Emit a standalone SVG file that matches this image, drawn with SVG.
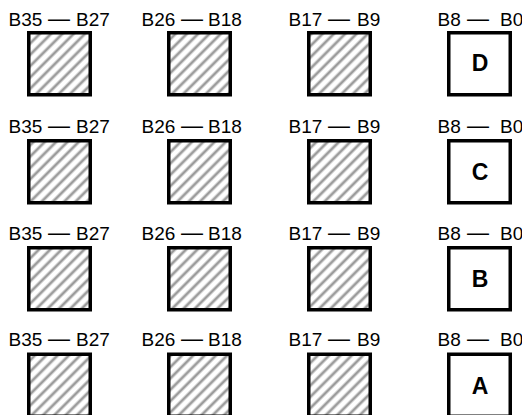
<svg xmlns="http://www.w3.org/2000/svg" width="522" height="415" viewBox="0 0 522 415">
<defs>
<pattern id="hatch" width="8" height="8" patternUnits="userSpaceOnUse" patternTransform="rotate(-45)">
<rect width="8" height="8" fill="#ffffff"/>
<line x1="0" y1="4" x2="8" y2="4" stroke="#9c9c9c" stroke-width="2.8"/>
</pattern>
</defs>
<style>
.lbl{font-family:"Liberation Sans",Arial,Helvetica,sans-serif;font-size:19px;fill:#000}
.dash{font-size:22px}
.box{stroke:#000;stroke-width:3.5}
.h{fill:url(#hatch)}
.p{fill:#fff}
.big{font-family:"Liberation Sans",Arial,Helvetica,sans-serif;font-size:23px;font-weight:bold;fill:#000;text-anchor:middle}
</style>
<rect width="522" height="415" fill="#fff"/>
<g id="row-D">
<g id="D-b35"><text class="lbl" y="26"><tspan x="8.5">B35</tspan><tspan class="dash" x="48">—</tspan><tspan x="76">B27</tspan></text><rect class="box h" x="28.75" y="32.75" width="61.5" height="62"/></g>
<g id="D-b26"><text class="lbl" y="26"><tspan x="141.5">B26</tspan><tspan class="dash" x="181">—</tspan><tspan x="208">B18</tspan></text><rect class="box h" x="168.75" y="32.75" width="61.5" height="62"/></g>
<g id="D-b17"><text class="lbl" y="26"><tspan x="288.5">B17</tspan><tspan class="dash" x="328">—</tspan><tspan x="357">B9</tspan></text><rect class="box h" x="308.75" y="32.75" width="61.5" height="62"/></g>
<g id="D-b8"><text class="lbl" y="26"><tspan x="437.5">B8</tspan><tspan class="dash" x="467">—</tspan><tspan x="500">B0</tspan></text><rect class="box p" x="448.75" y="32.75" width="61.5" height="62"/><text class="big" x="480" y="71">D</text></g>
</g>
<g id="row-C">
<g id="C-b35"><text class="lbl" y="133"><tspan x="8.5">B35</tspan><tspan class="dash" x="48">—</tspan><tspan x="76">B27</tspan></text><rect class="box h" x="28.75" y="140.75" width="61.5" height="62"/></g>
<g id="C-b26"><text class="lbl" y="133"><tspan x="141.5">B26</tspan><tspan class="dash" x="181">—</tspan><tspan x="208">B18</tspan></text><rect class="box h" x="168.75" y="140.75" width="61.5" height="62"/></g>
<g id="C-b17"><text class="lbl" y="133"><tspan x="288.5">B17</tspan><tspan class="dash" x="328">—</tspan><tspan x="357">B9</tspan></text><rect class="box h" x="308.75" y="140.75" width="61.5" height="62"/></g>
<g id="C-b8"><text class="lbl" y="133"><tspan x="437.5">B8</tspan><tspan class="dash" x="467">—</tspan><tspan x="500">B0</tspan></text><rect class="box p" x="448.75" y="140.75" width="61.5" height="62"/><text class="big" x="480" y="180">C</text></g>
</g>
<g id="row-B">
<g id="B-b35"><text class="lbl" y="239.5"><tspan x="8.5">B35</tspan><tspan class="dash" x="48">—</tspan><tspan x="76">B27</tspan></text><rect class="box h" x="28.75" y="247.75" width="61.5" height="62"/></g>
<g id="B-b26"><text class="lbl" y="239.5"><tspan x="141.5">B26</tspan><tspan class="dash" x="181">—</tspan><tspan x="208">B18</tspan></text><rect class="box h" x="168.75" y="247.75" width="61.5" height="62"/></g>
<g id="B-b17"><text class="lbl" y="239.5"><tspan x="288.5">B17</tspan><tspan class="dash" x="328">—</tspan><tspan x="357">B9</tspan></text><rect class="box h" x="308.75" y="247.75" width="61.5" height="62"/></g>
<g id="B-b8"><text class="lbl" y="239.5"><tspan x="437.5">B8</tspan><tspan class="dash" x="467">—</tspan><tspan x="500">B0</tspan></text><rect class="box p" x="448.75" y="247.75" width="61.5" height="62"/><text class="big" x="480" y="287">B</text></g>
</g>
<g id="row-A">
<g id="A-b35"><text class="lbl" y="346"><tspan x="8.5">B35</tspan><tspan class="dash" x="48">—</tspan><tspan x="76">B27</tspan></text><rect class="box h" x="28.75" y="354.25" width="61.5" height="62"/></g>
<g id="A-b26"><text class="lbl" y="346"><tspan x="141.5">B26</tspan><tspan class="dash" x="181">—</tspan><tspan x="208">B18</tspan></text><rect class="box h" x="168.75" y="354.25" width="61.5" height="62"/></g>
<g id="A-b17"><text class="lbl" y="346"><tspan x="288.5">B17</tspan><tspan class="dash" x="328">—</tspan><tspan x="357">B9</tspan></text><rect class="box h" x="308.75" y="354.25" width="61.5" height="62"/></g>
<g id="A-b8"><text class="lbl" y="346"><tspan x="437.5">B8</tspan><tspan class="dash" x="467">—</tspan><tspan x="500">B0</tspan></text><rect class="box p" x="448.75" y="354.25" width="61.5" height="62"/><text class="big" x="480" y="393.5">A</text></g>
</g>
<g id="connectors"/>
</svg>
